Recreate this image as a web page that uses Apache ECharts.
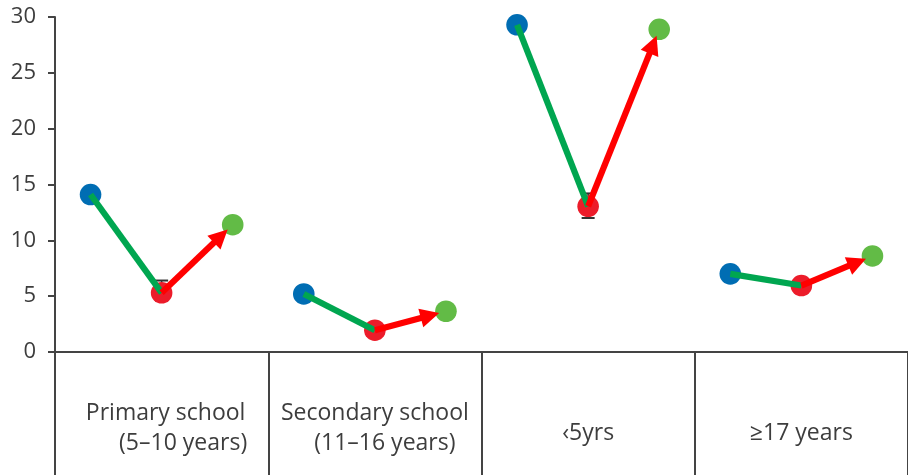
<!DOCTYPE html>
<html>
<head>
<meta charset="utf-8">
<script src="https://cdn.jsdelivr.net/npm/echarts@6/dist/echarts.min.js"></script>
<style>
html,body{margin:0;padding:0;background:#fff;}
#chart{width:908px;height:475px;}
</style>
</head>
<body>
<div id="chart"></div>
<script>
// ---- data ----
const categories = ['Primary school|(5–10 years)', 'Secondary school|(11–16 years)', '‹5yrs', '≥17 years'];
const beforeVals = [14.1, 5.2, 29.3, 7.0];   // blue points
const duringVals = [5.3, 1.95, 13.05, 5.95]; // red points
const afterVals  = [11.4, 3.65, 28.9, 8.6];  // green points
const errLow  = [4.6, 1.5, 12.0, 5.5];
const errHigh = [6.4, 2.4, 14.2, 6.4];
const yMin = 0, yMax = 30, yStep = 5;

const textColor = '#3d3d3d';
const axisColor = '#444444';
const font = '"Open Sans", "Noto Sans", sans-serif';

const seriesData = categories.map((c, i) => [i, beforeVals[i], duringVals[i], afterVals[i], errLow[i], errHigh[i]]);

const chart = echarts.init(document.getElementById('chart'), null, {renderer: 'canvas'});

function renderItem(params, api) {
  const g = api.value(0);
  const pB = api.coord([g + 1/6, api.value(1)]);
  const pR = api.coord([g + 0.5, api.value(2)]);
  const pG = api.coord([g + 5/6, api.value(3)]);
  const eL = api.coord([g + 0.5, api.value(4)]);
  const eH = api.coord([g + 0.5, api.value(5)]);
  const r = 10.8;
  const lw = 6.2;
  let dx = pG[0] - pR[0], dy = pG[1] - pR[1];
  const len = Math.sqrt(dx*dx + dy*dy);
  dx /= len; dy /= len;
  const nx = -dy, ny = dx;
  const tip = [pG[0] - dx * 7, pG[1] - dy * 7];
  const headLen = 19, headW = 9.5;
  const base = [tip[0] - dx * headLen, tip[1] - dy * headLen];
  const lineEnd = [base[0] + dx * 2, base[1] + dy * 2];
  const wh = 6.5;
  return {
    type: 'group',
    children: [
      {type: 'line', shape: {x1: eL[0], y1: eL[1], x2: eH[0], y2: eH[1]}, style: {stroke: '#333', lineWidth: 1.5}},
      {type: 'line', shape: {x1: eL[0]-wh, y1: eL[1], x2: eL[0]+wh, y2: eL[1]}, style: {stroke: '#333', lineWidth: 2}},
      {type: 'line', shape: {x1: eH[0]-wh, y1: eH[1], x2: eH[0]+wh, y2: eH[1]}, style: {stroke: '#333', lineWidth: 2}},
      {type: 'circle', shape: {cx: pB[0], cy: pB[1], r: r}, style: {fill: '#006db3'}},
      {type: 'circle', shape: {cx: pR[0], cy: pR[1], r: r}, style: {fill: '#ec1c2a'}},
      {type: 'circle', shape: {cx: pG[0], cy: pG[1], r: r}, style: {fill: '#62bb46'}},
      {type: 'line', shape: {x1: pB[0], y1: pB[1], x2: pR[0], y2: pR[1]}, style: {stroke: '#00a650', lineWidth: lw}},
      {type: 'line', shape: {x1: pR[0], y1: pR[1], x2: lineEnd[0], y2: lineEnd[1]}, style: {stroke: '#ff0000', lineWidth: lw}},
      {type: 'polygon', shape: {points: [tip, [base[0] + nx*headW, base[1] + ny*headW], [base[0] - nx*headW, base[1] - ny*headW]]}, style: {fill: '#ff0000'}}
    ]
  };
}

const labelBase = {fontSize: 23, fontFamily: font, color: textColor, lineHeight: 30};
const option = {
  backgroundColor: '#ffffff',
  animation: false,
  grid: {left: 55, right: 0, top: 17, bottom: 123, containLabel: false},
  xAxis: [
    {
      type: 'value', min: 0, max: categories.length, interval: 1,
      splitLine: {show: false},
      axisLine: {show: true, lineStyle: {color: axisColor, width: 2}},
      axisTick: {show: true, length: 123, lineStyle: {color: axisColor, width: 2}},
      axisLabel: {show: false}
    },
    {
      type: 'category', data: categories, position: 'bottom', boundaryGap: true,
      axisLine: {show: false}, axisTick: {show: false}, splitLine: {show: false},
      axisLabel: {
        margin: 76, verticalAlign: 'middle', interval: 0,
        formatter: function (v, i) {
          const parts = v.split('|');
          if (parts.length === 2) {
            return '{a' + i + '|' + parts[0] + '}\n{b' + i + '|' + parts[1] + '}';
          }
          return '{s|' + v + '}';
        },
        rich: {
          a0: Object.assign({}, labelBase, {padding: [0, 0, 0, 8]}),
          b0: Object.assign({}, labelBase, {padding: [0, 0, 0, 43]}),
          a1: Object.assign({}, labelBase),
          b1: Object.assign({}, labelBase, {padding: [0, 0, 0, 20]}),
          s: Object.assign({}, labelBase, {padding: [10, 0, 0, 0]})
        }
      }
    }
  ],
  yAxis: {
    type: 'value', min: yMin, max: yMax, interval: yStep,
    splitLine: {show: false},
    axisLine: {show: true, lineStyle: {color: axisColor, width: 2}},
    axisTick: {show: true, length: 7, lineStyle: {color: axisColor, width: 2}},
    axisLabel: {margin: 19, fontSize: 22, fontFamily: font, color: textColor}
  },
  series: [{
    type: 'custom',
    xAxisIndex: 0, yAxisIndex: 0,
    renderItem: renderItem,
    encode: {x: 0, y: [1, 2, 3, 4, 5]},
    data: seriesData,
    clip: false
  }]
};
chart.setOption(option);
</script>
</body>
</html>
